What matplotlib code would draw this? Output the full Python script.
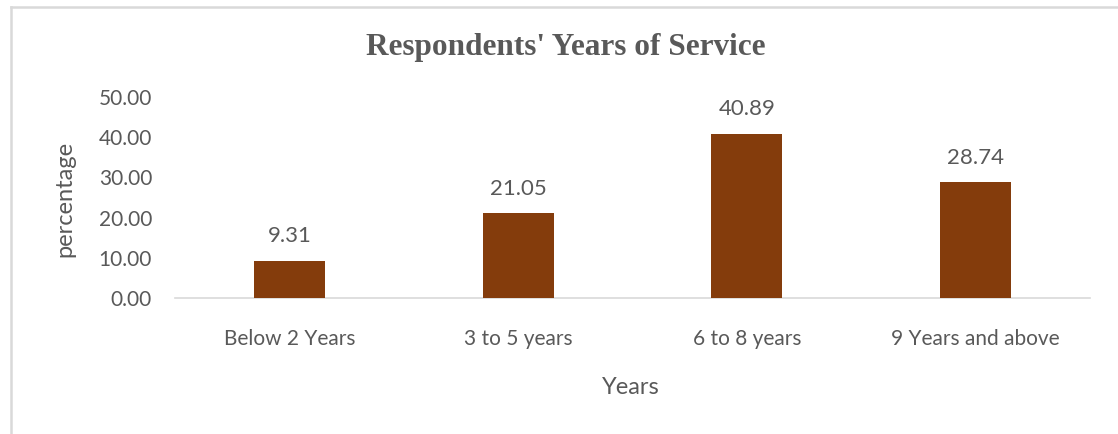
import matplotlib
matplotlib.use("Agg")
import matplotlib.pyplot as plt
from matplotlib.lines import Line2D

categories = ["Below 2 Years", "3 to 5 years", "6 to 8 years", "9 Years and above"]
values = [9.31, 21.05, 40.89, 28.74]
yticks = [0, 10, 20, 30, 40, 50]

W, H = 1118, 434
fig = plt.figure(figsize=(W / 100, H / 100), dpi=100)
fig.patch.set_facecolor("white")

gray = "#595959"
ax = fig.add_axes([175 / W, 1 - 298 / H, (1090 - 175) / W, (298 - 97) / H])
x = list(range(len(categories)))
ax.bar(x, values, width=0.31, color="#843C0C", zorder=3)
ax.set_xlim(-0.5, len(categories) - 0.5)
ax.set_ylim(0, 50)
ax.set_yticks(yticks)
ax.set_yticklabels([f"{v:.2f}" for v in yticks], family="Lato", fontsize=15, color=gray)
ax.set_xticks(x)
ax.set_xticklabels(categories, family="Lato", fontsize=15, color=gray)
ax.tick_params(axis="both", length=0)
ax.tick_params(axis="y", pad=16.5)
ax.tick_params(axis="x", pad=22.5)
for s in ["top", "right", "left"]:
    ax.spines[s].set_visible(False)
ax.spines["bottom"].set_color("#D9D9D9")
ax.spines["bottom"].set_linewidth(1.2)

for xi, v in zip(x, values):
    ax.annotate(f"{v:.2f}", (xi, v), xytext=(0, 17.5), textcoords="offset points",
                ha="center", va="center", family="Lato", fontsize=16, color=gray)

fig.text(566 / W, 1 - 47 / H, "Respondents' Years of Service", ha="center", va="center",
         family="Liberation Serif", fontweight="bold", fontsize=22.5, color=gray)
fig.text(65 / W, 1 - 199 / H, "percentage", rotation=90, ha="center", va="center",
         family="Lato", fontsize=17, color=gray)
fig.text(631 / W, 1 - 388 / H, "Years", ha="center", va="center",
         family="Lato", fontsize=17, color=gray)

# outer chart border
fig.add_artist(Line2D([11 / W, 11 / W], [0, 1 - 7 / H], transform=fig.transFigure,
                      color="#D9D9D9", lw=1.8))
fig.add_artist(Line2D([11 / W, 1], [1 - 7 / H, 1 - 7 / H], transform=fig.transFigure,
                      color="#D9D9D9", lw=1.8))

fig.savefig("out.png", dpi=100)
